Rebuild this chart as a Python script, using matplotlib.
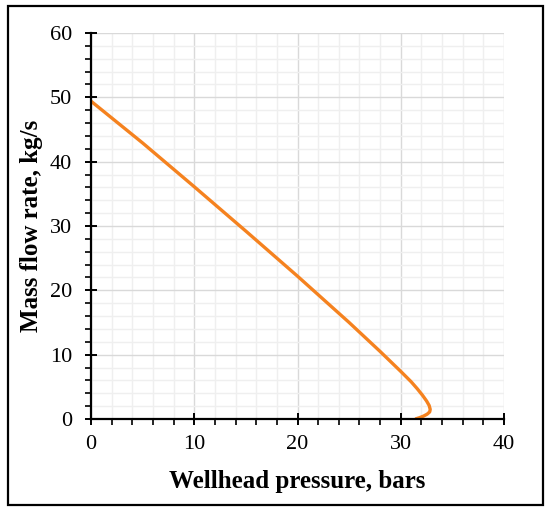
import matplotlib
matplotlib.use("Agg")
import matplotlib.pyplot as plt
from matplotlib.patches import Rectangle
from matplotlib.ticker import MultipleLocator

# wellhead pressure (bars) vs mass flow rate (kg/s)
pressure = [0, 5, 10, 15, 20, 25, 28, 30, 31, 31.6, 32.1, 32.5, 32.75, 32.85, 32.8, 32.55, 32.2, 31.8, 31.4]
mass_flow = [49.4, 42.9, 36.1, 29.2, 22.2, 15.0, 10.5, 7.4, 5.8, 4.7, 3.7, 2.8, 2.1, 1.5, 1.1, 0.75, 0.45, 0.2, 0.0]

plt.rcParams["font.family"] = ["Liberation Serif", "DejaVu Serif"]

fig = plt.figure(figsize=(5.5, 5.13), dpi=100)
ax = fig.add_axes([0.1655, 0.1832, 0.7509, 0.7525])

ax.plot(pressure, mass_flow, color="#F5821F", linewidth=2.4,
        solid_joinstyle="round", solid_capstyle="butt", zorder=3)

ax.set_xlim(0, 40)
ax.set_ylim(0, 60)
ax.xaxis.set_major_locator(MultipleLocator(10))
ax.xaxis.set_minor_locator(MultipleLocator(2))
ax.yaxis.set_major_locator(MultipleLocator(10))
ax.yaxis.set_minor_locator(MultipleLocator(2))

ax.grid(which="major", color="#d9d9d9", linewidth=1.0)
ax.grid(which="minor", color="#efefef", linewidth=1.0)
ax.set_axisbelow(True)

for side in ("top", "right"):
    ax.spines[side].set_visible(False)
for side in ("left", "bottom"):
    ax.spines[side].set_linewidth(1.6)
    ax.spines[side].set_zorder(4)

ax.tick_params(which="major", direction="inout", length=9, width=1.4, labelsize=16)
ax.tick_params(axis="x", which="major", pad=7)
ax.tick_params(axis="y", which="major", pad=9)
ax.tick_params(which="minor", direction="out", length=4.5, width=1.2)

ax.set_xlabel("Wellhead pressure, bars", fontsize=18, fontweight="bold", va="center")
ax.set_ylabel("Mass flow rate, kg/s", fontsize=18, fontweight="bold", va="center")
ax.xaxis.set_label_coords(0.5, -0.163)
ax.yaxis.set_label_coords(-0.145, 0.5)

# chart border
fig.patches.append(Rectangle((8 / 550, 1 - 505 / 513), 535 / 550, 499 / 513,
                             transform=fig.transFigure, fill=False,
                             edgecolor="black", linewidth=1.6))

fig.savefig("out.png", dpi=100)
